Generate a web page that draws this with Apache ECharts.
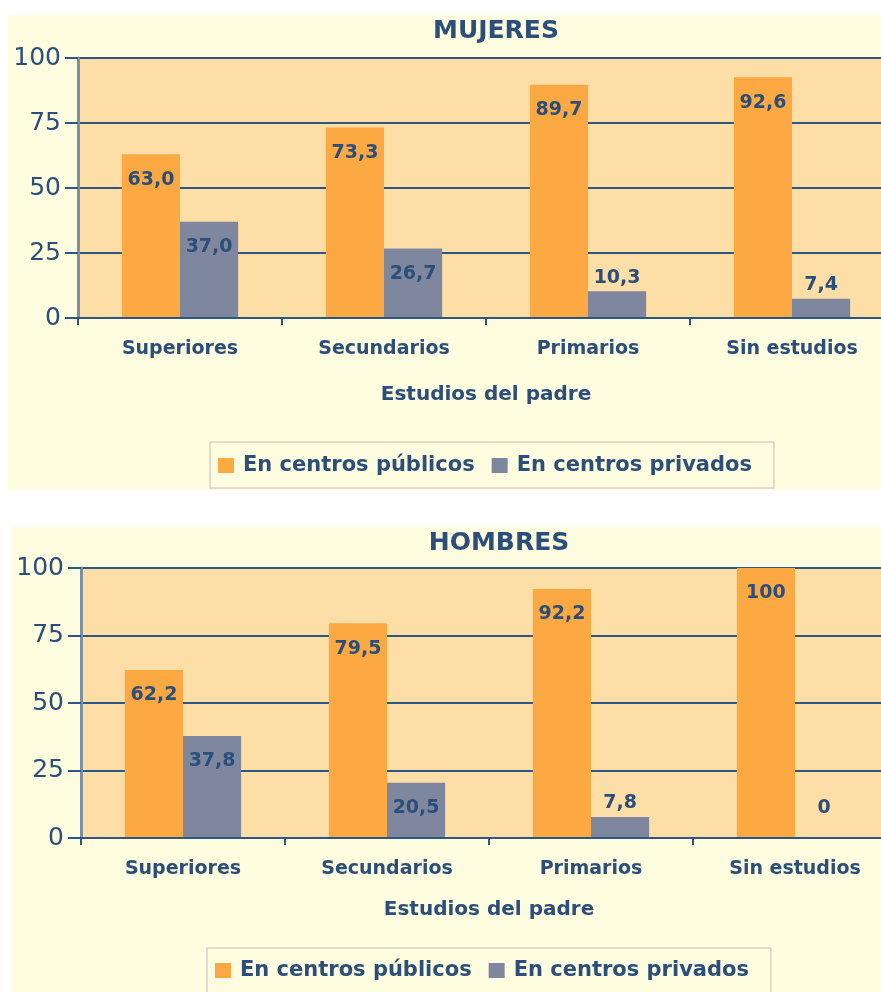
<!DOCTYPE html>
<html>
<head>
<meta charset="utf-8">
<script src="https://cdn.jsdelivr.net/npm/echarts@6/dist/echarts.min.js"></script>
<style>
html,body{margin:0;padding:0;background:#fff;}
#c{width:881px;height:992px;}
</style>
</head>
<body>
<div id="c"></div>
<script>
var categories = ['Superiores', 'Secundarios', 'Primarios', 'Sin estudios'];
var seriesNames = ['En centros públicos', 'En centros privados'];
var mujeresPublicos = [63.0, 73.3, 89.7, 92.6];
var mujeresPrivados = [37.0, 26.7, 10.3, 7.4];
var hombresPublicos = [62.2, 79.5, 92.2, 100];
var hombresPrivados = [37.8, 20.5, 7.8, 0];
var yTicks = [0, 25, 50, 75, 100];
var chartTitles = ['MUJERES', 'HOMBRES'];
var axisTitle = 'Estudios del padre';

var TXT = '#2B4F7A';
var FONT = 'DejaVu Sans';
var ORANGE = '#FCA843';
var GRAY = '#7F879E';

function fmt(v) {
  if (v === 0 || v === 100) return String(v);
  return v.toFixed(1).replace('.', ',');
}
function dataWithLabels(arr) {
  return arr.map(function (v) {
    var big = v >= 15;
    return {
      value: v,
      label: {
        position: big ? 'insideTop' : 'top',
        distance: big ? 16 : (v === 0 ? 20 : 4)
      }
    };
  });
}

var grids = [
  {left: 78, top: 58, height: 260, width: 816},
  {left: 81, top: 568, height: 270, width: 816}
];

function legendCfg(left, top, pad) {
  return {
    data: seriesNames, left: left, top: top, padding: pad,
    itemWidth: 16, itemHeight: 15, itemGap: 17, icon: 'rect',
    backgroundColor: '#FEFDDF', borderColor: '#D6D4C6', borderWidth: 1.5,
    textStyle: {color: TXT, fontSize: 21, fontWeight: 'bold', fontFamily: FONT, padding: [0, 0, 0, 4]}
  };
}

var option = {
  backgroundColor: '#ffffff',
  animation: false,
  textStyle: {fontFamily: FONT},
  graphic: [
    {type: 'rect', z: -10, shape: {x: 8, y: 15, width: 873, height: 475}, style: {fill: '#FEFDDF'}},
    {type: 'rect', z: -10, shape: {x: 12, y: 527, width: 869, height: 465}, style: {fill: '#FEFDDF'}}
  ],
  title: [
    {text: chartTitles[0], left: 491, top: 14, textAlign: 'center',
     textStyle: {color: TXT, fontSize: 25, fontWeight: 'bold', fontFamily: FONT}},
    {text: chartTitles[1], left: 494, top: 526, textAlign: 'center',
     textStyle: {color: TXT, fontSize: 25, fontWeight: 'bold', fontFamily: FONT}}
  ],
  legend: [
    legendCfg(210, 442, [13, 22, 12, 8]),
    legendCfg(207, 948, [12, 22, 14, 8])
  ],
  grid: grids.map(function (g) {
    return {left: g.left, top: g.top, height: g.height, width: g.width,
      outerBoundsMode: 'none', containLabel: false,
      show: true, backgroundColor: '#FDDEA6', borderWidth: 0};
  }),
  xAxis: [0, 1].map(function (i) {
    return {
      type: 'category', gridIndex: i, data: categories,
      name: axisTitle, nameLocation: 'middle', nameGap: i === 0 ? 67 : 62,
      nameTextStyle: {color: TXT, fontSize: 20, fontWeight: 'bold', fontFamily: FONT},
      axisLine: {lineStyle: {color: '#2F5680', width: 2}},
      axisTick: {show: true, length: 7, lineStyle: {color: '#2F5680', width: 2}},
      axisLabel: {color: TXT, fontSize: 19, fontWeight: 'bold', fontFamily: FONT, margin: 22},
      z: 5
    };
  }),
  yAxis: [0, 1].map(function (i) {
    return {
      type: 'value', gridIndex: i, min: yTicks[0], max: yTicks[yTicks.length - 1], interval: 25,
      axisLine: {show: true, lineStyle: {color: '#7D8FA3', width: 3}},
      axisTick: {show: true, length: 13, lineStyle: {color: '#2F5680', width: 2}},
      axisLabel: {color: TXT, fontSize: 25, fontFamily: FONT, margin: 17},
      splitLine: {show: true, lineStyle: {color: '#2F5680', width: 2}},
      z: 1
    };
  }),
  series: [
    {name: seriesNames[0], type: 'bar', xAxisIndex: 0, yAxisIndex: 0, data: dataWithLabels(mujeresPublicos)},
    {name: seriesNames[1], type: 'bar', xAxisIndex: 0, yAxisIndex: 0, data: dataWithLabels(mujeresPrivados)},
    {name: seriesNames[0], type: 'bar', xAxisIndex: 1, yAxisIndex: 1, data: dataWithLabels(hombresPublicos)},
    {name: seriesNames[1], type: 'bar', xAxisIndex: 1, yAxisIndex: 1, data: dataWithLabels(hombresPrivados)}
  ].map(function (s, idx) {
    s.itemStyle = {color: idx % 2 === 0 ? ORANGE : GRAY};
    s.barGap = '0%';
    s.barCategoryGap = '43%';
    s.z = 3;
    s.label = {show: true, color: TXT, fontSize: 19, fontWeight: 'bold', fontFamily: FONT,
      formatter: function (p) { return fmt(p.value); }};
    return s;
  })
};

var chart = echarts.init(document.getElementById('c'), null, {renderer: 'canvas'});
chart.setOption(option);
</script>
</body>
</html>
